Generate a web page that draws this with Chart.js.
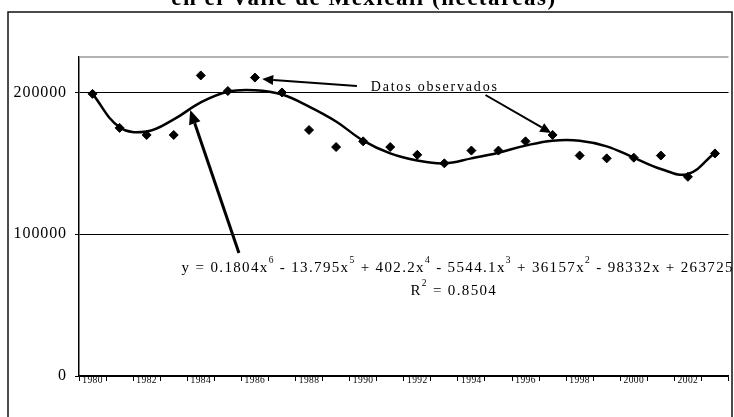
<!DOCTYPE html>
<html>
<head>
<meta charset="utf-8">
<script src="https://cdn.jsdelivr.net/npm/chart.js@4.4.1/dist/chart.umd.min.js"></script>
<style>
  html, body { margin: 0; padding: 0; background: #fff; }
</style>
</head>
<body>
<canvas id="chart" width="734" height="417"></canvas>
<script>
const years = ["1980","1981","1982","1983","1984","1985","1986","1987","1988","1989","1990","1991",
               "1992","1993","1994","1995","1996","1997","1998","1999","2000","2001","2002","2003"];
const observed = [199000, 175000, 170000, 170000, 212000, 201000, 210500, 200000, 173500, 161500, 165500, 161500,
                  156000, 150000, 159000, 159000, 165500, 170000, 155500, 153500, 154000, 155500, 140500, 157000];
const trend = [199000, 175500, 172500, 181000, 193000, 200500, 201500, 198500, 190000, 179500, 166000, 157000,
               152000, 150000, 153500, 157500, 162500, 166000, 166000, 162000, 154000, 146000, 142500, 157500];
const yTicks = [0, 100000, 200000];
const yMax = 225000;

const titleText = "en el Valle de Mexicali (hectáreas)";
const noteText = "Datos observados";
const eqParts = [["y = 0.1804x", 0], ["6", 1], [" - 13.795x", 0], ["5", 1], [" + 402.2x", 0], ["4", 1],
                 [" - 5544.1x", 0], ["3", 1], [" + 36157x", 0], ["2", 1], [" - 98332x + 263725", 0]];
const r2Parts = [["R", 0], ["2", 1], [" = 0.8504", 0]];

// annotation anchors in data units: [category index, value]
const arrows = [
  { from: [9.77, 204500], to: [6.27, 209400], w: 2, hl: 11, hw: 5 },
  { from: [14.52, 198200], to: [16.95, 171400], w: 2, hl: 11, hw: 5 },
  { from: [5.41, 86700], to: [3.61, 187600], w: 3, hl: 14, hw: 6 }
];
const notePos = [10.28, 201000];
const eqPos = [3.29, 73300];
const r2Pos = [11.745, 57100];

const serif = '"Liberation Serif", "Times New Roman", serif';

function drawArrow(c, a, b, w, hl, hw) {
  const ang = Math.atan2(b[1] - a[1], b[0] - a[0]);
  const bx = b[0] - hl * Math.cos(ang), by = b[1] - hl * Math.sin(ang);
  c.lineWidth = w;
  c.beginPath(); c.moveTo(a[0], a[1]); c.lineTo(bx, by); c.stroke();
  c.beginPath();
  c.moveTo(b[0], b[1]);
  c.lineTo(bx + hw * Math.sin(ang), by - hw * Math.cos(ang));
  c.lineTo(bx - hw * Math.sin(ang), by + hw * Math.cos(ang));
  c.closePath(); c.fill();
}

function drawRich(c, parts, x0, yb, size, supSize) {
  let x = x0;
  for (const [t, sup] of parts) {
    c.font = (sup ? supSize : size) + 'px ' + serif;
    c.fillText(t, x, sup ? yb - size * 0.6 : yb);
    x += c.measureText(t).width;
  }
}

// letter spacing per axis (the scan has wide-set figures)
function spaced(px) {
  return s => {
    if (s._spaced) return;
    const orig = s.drawLabels;
    s.drawLabels = function (area) { this.ctx.save(); this.ctx.letterSpacing = px; orig.call(this, area); this.ctx.restore(); };
    s._spaced = true;
  };
}

const decor = {
  id: 'decor',
  beforeDraw(chart) {
    const c = chart.ctx;
    c.save();
    c.fillStyle = '#fff';
    c.fillRect(0, 0, chart.width, chart.height);
    c.strokeStyle = '#111';
    c.lineWidth = 1.5;
    c.strokeRect(8, 12, 724, 440);
    c.fillStyle = '#000';
    c.font = 'bold 23px ' + serif;
    c.textAlign = 'center';
    c.textBaseline = 'alphabetic';
    c.letterSpacing = '1.5px';
    c.fillText(titleText, 364, 5);
    c.restore();
  },
  afterDraw(chart) {
    const c = chart.ctx;
    const x = chart.scales.x, y = chart.scales.y, a = chart.chartArea;
    const px = p => [x.getPixelForValue(p[0]), y.getPixelForValue(p[1])];
    c.save();
    c.strokeStyle = '#999';
    c.lineWidth = 1.5;
    c.beginPath(); c.moveTo(a.left, a.top); c.lineTo(a.right, a.top); c.stroke();

    c.strokeStyle = '#000';
    c.fillStyle = '#000';
    arrows.forEach(ar => drawArrow(c, px(ar.from), px(ar.to), ar.w, ar.hl, ar.hw));

    c.textAlign = 'left';
    c.textBaseline = 'alphabetic';
    c.font = '14px ' + serif;
    c.letterSpacing = '1.8px';
    const n = px(notePos);
    c.fillText(noteText, n[0], n[1]);

    c.letterSpacing = '1.35px';
    const e = px(eqPos);
    drawRich(c, eqParts, e[0], e[1], 15, 9.5);
    const r = px(r2Pos);
    drawRich(c, r2Parts, r[0], r[1], 15, 9.5);
    c.restore();
  }
};

const ctx = document.getElementById("chart").getContext("2d");
const chart = new Chart(ctx, {
  type: "line",
  data: {
    labels: years,
    datasets: [
      {
        label: "Datos observados", data: observed, showLine: false,
        pointStyle: 'rectRot', pointRadius: 4.5, pointBackgroundColor: '#000', pointBorderColor: '#000', pointBorderWidth: 1
      },
      {
        label: "Tendencia", data: trend, borderColor: '#000', borderWidth: 2.5,
        tension: 0.4, pointRadius: 0, fill: false
      }
    ]
  },
  options: {
    responsive: false,
    animation: false,
    layout: { padding: { top: 57, right: 3, bottom: 0, left: 0 } },
    plugins: { legend: { display: false }, tooltip: { enabled: false }, title: { display: false } },
    scales: {
      x: {
        offset: true,
        grid: { offset: true, drawOnChartArea: false, drawTicks: true, tickLength: 5, tickColor: '#000', tickWidth: 1 },
        border: { color: '#000', width: 1.5 },
        ticks: {
          autoSkip: false, maxRotation: 0, minRotation: 0, padding: -5.9, color: '#000',
          font: { family: serif, size: 9.5 },
          callback: (v, i) => i % 2 === 0 ? years[i] : ''
        },
        afterFit: s => { s.height = 41; spaced('0.4px')(s); }
      },
      y: {
        min: 0, max: yMax,
        afterBuildTicks: s => { s.ticks = yTicks.map(v => ({ value: v })); },
        grid: { color: '#000', lineWidth: 1, tickLength: 4, tickColor: '#000' },
        border: { color: '#000', width: 1.5 },
        ticks: {
          padding: 8, color: '#000', font: { family: serif, size: 16 },
          callback: v => String(v)
        },
        afterFit: s => { s.width = 79; spaced('0.9px')(s); }
      }
    }
  },
  plugins: [decor]
});
</script>
</body>
</html>
